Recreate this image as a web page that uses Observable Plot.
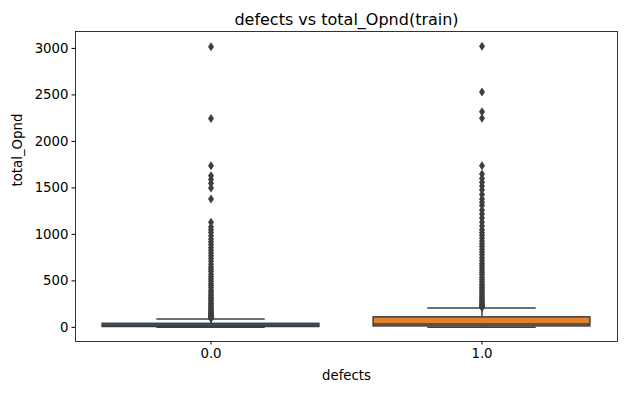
<!DOCTYPE html>
<html>
<head>
<meta charset="utf-8">
<script src="https://cdn.jsdelivr.net/npm/d3@7"></script>
<script src="https://cdn.jsdelivr.net/npm/@observablehq/plot@0.6"></script>
<style>
  html, body { margin: 0; padding: 0; background: #fff; }
</style>
</head>
<body>
<div id="chart"></div>
<script>
const categories = ["0.0", "1.0"];
const boxColors = ["#3274a1", "#e1812c"];
const q1 = [4, 10];
const median = [22, 36];
const q3 = [38, 108];
const whiskerLow = [0, 0];
const whiskerHigh = [90, 208];
const outliers0 = [95, 100, 108, 115, 122, 130, 140, 150, 160, 172, 185, 198, 210, 225, 240, 255, 270, 288, 305, 320, 340, 360, 380, 400, 425, 450, 470, 495, 520, 545, 570, 600, 625, 650, 680, 710, 740, 770, 800, 830, 860, 890, 920, 950, 985, 1020, 1050, 1080, 1130, 1380, 1500, 1550, 1590, 1631, 1739, 2246, 3017];
const outliers1 = [215, 222, 230, 240, 250, 262, 275, 290, 305, 320, 338, 355, 372, 390, 410, 430, 450, 470, 492, 515, 540, 565, 590, 615, 640, 665, 690, 720, 750, 780, 810, 840, 870, 900, 930, 960, 990, 1020, 1050, 1090, 1130, 1175, 1220, 1260, 1310, 1345, 1380, 1430, 1480, 1520, 1560, 1600, 1650, 1739, 2250, 2320, 2530, 3024];
const yTicks = [0, 500, 1000, 1500, 2000, 2500, 3000];
const titleText = "defects vs total_Opnd(train)";
const xLabel = "defects";
const yLabel = "total_Opnd";

const boxes = categories.map((c, i) => ({
  c, q1: q1[i], med: median[i], q3: q3[i], lo: whiskerLow[i], hi: whiskerHigh[i], color: boxColors[i]
}));
const fliers = [
  ...outliers0.map(v => ({c: categories[0], v})),
  ...outliers1.map(v => ({c: categories[1], v}))
];

const thinDiamond = {
  draw(ctx, size) {
    const r = Math.sqrt(size / Math.PI);
    const w = r, h = r * 1.5;
    ctx.moveTo(0, -h);
    ctx.lineTo(w, 0);
    ctx.lineTo(0, h);
    ctx.lineTo(-w, 0);
    ctx.closePath();
  }
};

const gray = "#3f3f3f";
const bandW = 542 / 2;
const boxInset = bandW * 0.1;
const capInset = bandW * 0.3;

const chart = Plot.plot({
  width: 627,
  height: 393,
  marginLeft: 75,
  marginRight: 10,
  marginTop: 31,
  marginBottom: 52,
  style: {fontFamily: "DejaVu Sans", fontSize: "13.3px", color: "#000", background: "#fff"},
  x: {domain: categories, padding: 0, label: null, tickSize: 3.5, tickPadding: 3.5},
  y: {domain: [-152, 3182], ticks: yTicks, tickFormat: d => String(d), label: null, tickSize: 3.5, tickPadding: 3.5},
  color: {type: "identity"},
  marks: [
    Plot.ruleX(boxes, {x: "c", y1: "q3", y2: "hi", stroke: gray, strokeWidth: 1.5}),
    Plot.ruleX(boxes, {x: "c", y1: "lo", y2: "q1", stroke: gray, strokeWidth: 1.5}),
    Plot.tickY(boxes, {x: "c", y: "hi", stroke: gray, strokeWidth: 1.5, insetLeft: capInset, insetRight: capInset}),
    Plot.tickY(boxes, {x: "c", y: "lo", stroke: gray, strokeWidth: 1.5, insetLeft: capInset, insetRight: capInset}),
    Plot.barY(boxes, {x: "c", y1: "q1", y2: "q3", fill: "color", stroke: gray, strokeWidth: 1.5, insetLeft: boxInset, insetRight: boxInset}),
    Plot.tickY(boxes, {x: "c", y: "med", stroke: gray, strokeWidth: 1.5, insetLeft: boxInset, insetRight: boxInset}),
    Plot.dot(fliers, {x: "c", y: "v", symbol: thinDiamond, r: 3, fill: gray, stroke: "none"}),
    Plot.frame({stroke: "#000", strokeWidth: 0.8}),
    Plot.text([titleText], {frameAnchor: "top", dy: -18, fontSize: 16, fill: "#000"}),
    Plot.text([xLabel], {frameAnchor: "bottom", dy: 38, fontSize: 13.3, fill: "#000"}),
    Plot.text([yLabel], {frameAnchor: "left", dx: -58, rotate: -90, fontSize: 13.3, fill: "#000"})
  ]
});
document.getElementById("chart").appendChild(chart);
</script>
</body>
</html>
